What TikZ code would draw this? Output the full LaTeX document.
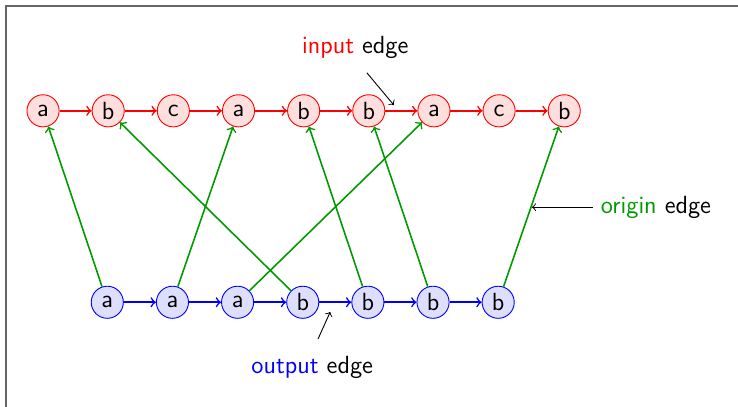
\documentclass[tikz,border=0pt]{standalone}
\usepackage{tikz}
\usepackage{xcolor}
\usetikzlibrary{arrows, positioning}
\colorlet{origingreen}{green!60!black}
\tikzstyle{inputnode} = [circle, 
minimum size=0.5cm, 
inner sep=0pt, 
fill=red!13, 
draw=red]
\tikzstyle{outputnode} = [circle, 
minimum size=0.5cm, 
inner sep=0pt, 
fill=blue!13, 
draw=blue]
\tikzstyle{inputarrow} = [line width=0.7pt, red, ->]
\tikzstyle{outputarrow} = [line width=0.7pt, blue, ->]
\tikzstyle{originarrow} = [line width=0.7pt, origingreen, ->]
\tikzstyle{notearrow} = [thin, black, ->]

\begin{document}
\begin{tikzpicture}[node distance=0.5cm, font=\fontsize{11}{13}\sffamily]
        \useasboundingbox (0,0) rectangle (11.487,6.335);
        \draw [black!60, line width=0.8pt] (0.093,0) -- (0.093,6.24) -- (11.487,6.24);

        % --- Input nodes ---
        \node (in1) [inputnode] at (0.67,4.61) {a};
        \node (in2) [inputnode, right=of in1] {b};
        \node (in3) [inputnode, right=of in2] {c};
        \node (in4) [inputnode, right=of in3] {a};
        \node (in5) [inputnode, right=of in4] {b};
        \node (in6) [inputnode, right=of in5] {b};
        \node (in7) [inputnode, right=of in6] {a};
        \node (in8) [inputnode, right=of in7] {c};
        \node (in9) [inputnode, right=of in8] {b};

        % --- Output nodes ---
        \node (out1) [outputnode] at (1.67,1.63) {a};
        \node (out2) [outputnode, right=of out1] {a};
        \node (out3) [outputnode, right=of out2] {a};
        \node (out4) [outputnode, right=of out3] {b};
        \node (out5) [outputnode, right=of out4] {b};
        \node (out6) [outputnode, right=of out5] {b};
        \node (out7) [outputnode, right=of out6] {b};

        % --- Labels ---
        \node (inlabel) at (5.53,5.60) {\textcolor{red}{input} edge};
        \node (outlabel) at (4.86,0.61) {\textcolor{blue}{output} edge};
        \node (originlabel) at (10.21,3.11) {\textcolor{origingreen}{origin} edge};
        \coordinate (inmark) at (6.13,4.70);
        \coordinate (outmark) at (5.14,1.48);
        \coordinate (originmark) at (8.28,3.11);

        % --- Input edges ---
        \draw [inputarrow] (in1) -- (in2);
        \draw [inputarrow] (in2) -- (in3);
        \draw [inputarrow] (in3) -- (in4);
        \draw [inputarrow] (in4) -- (in5);
        \draw [inputarrow] (in5) -- (in6);
        \draw [inputarrow] (in6) -- (in7);
        \draw [inputarrow] (in7) -- (in8);
        \draw [inputarrow] (in8) -- (in9);

        % --- Output edges ---
        \draw [outputarrow] (out1) -- (out2);
        \draw [outputarrow] (out2) -- (out3);
        \draw [outputarrow] (out3) -- (out4);
        \draw [outputarrow] (out4) -- (out5);
        \draw [outputarrow] (out5) -- (out6);
        \draw [outputarrow] (out6) -- (out7);

        % --- Origin edges ---
        \draw [originarrow] (out1) -- (in1);
        \draw [originarrow] (out2) -- (in4);
        \draw [originarrow] (out3) -- (in7);
        \draw [originarrow] (out4) -- (in2);
        \draw [originarrow] (out5) -- (in5);
        \draw [originarrow] (out6) -- (in6);
        \draw [originarrow] (out7) -- (in9);

        % Notes
        \draw [notearrow] ([xshift=0.18cm, yshift=-0.1cm]inlabel.south) -- (inmark);
        \draw [notearrow] ([xshift=0.09cm, yshift=0.15cm]outlabel.north) -- (outmark);
        \draw [notearrow] (originlabel.west) -- (originmark);

    \end{tikzpicture}
\end{document}
